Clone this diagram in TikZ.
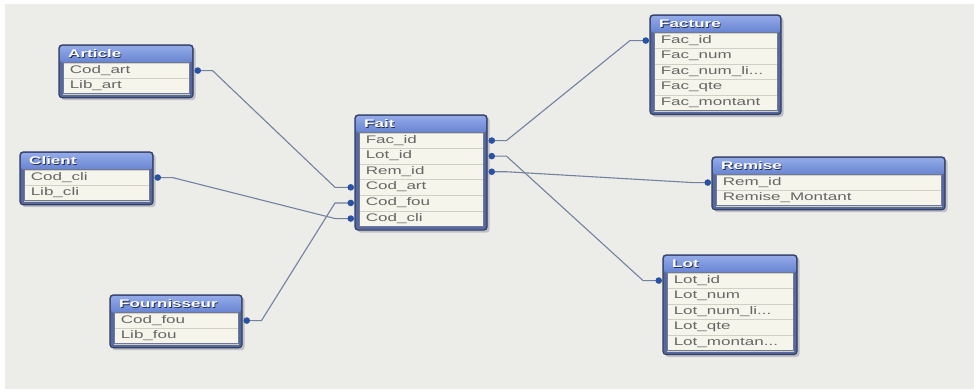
\documentclass[tikz,border=0pt]{standalone}
\usepackage{fontspec}
\usetikzlibrary{arrows.meta}
\newfontfamily\tblfont[FakeStretch=1.55]{Liberation Sans}

\definecolor{bgc}{RGB}{236,236,233}
\definecolor{shadowc}{RGB}{190,192,198}
\definecolor{framec}{RGB}{86,104,156}
\definecolor{framedc}{RGB}{50,62,100}
\definecolor{titletop}{RGB}{146,170,232}
\definecolor{titlebot}{RGB}{104,132,210}
\definecolor{rowfill}{RGB}{245,245,235}
\definecolor{rowsep}{RGB}{208,208,198}
\definecolor{rowsline}{RGB}{112,122,152}
\definecolor{textc}{RGB}{102,102,102}
\definecolor{linkc}{RGB}{116,130,160}
\definecolor{dotc}{RGB}{42,82,162}
\definecolor{titlesh}{RGB}{30,42,90}

\newcommand{\titleh}{17.5}
\newcommand{\rowh}{15.6}
\newcommand{\trunc}{...}

\tikzset{
  framebox/.style={fill=framec, draw=framedc, line width=1.1pt, rounded corners=3pt},
  rowsbox/.style={draw=rowsline, line width=0.7pt},
  rowcell/.style={draw=rowsep, line width=0.5pt, fill=rowfill, rectangle,
    inner xsep=6.5pt, inner ysep=0pt, minimum height=\rowh pt, align=left,
    font=\tblfont\fontsize{11}{13}\selectfont, text=textc, execute at begin node=\strut},
  titletext/.style={font=\tblfont\bfseries\fontsize{11}{13}\selectfont, text=white, inner sep=0pt},
  titleshadow/.style={titletext, text=titlesh},
  link/.style={draw=linkc, line width=1.1pt,
    {Circle[length=6.5pt,color=dotc]}-{Circle[length=6.5pt,color=dotc]}},
}

% #1 name, #2 left, #3 top, #4 width, #5 number of rows, #6 title, #7 rows
\newcommand{\dbtable}[7]{%
  \pgfmathsetmacro\rowsbottom{#3+\titleh+#5*\rowh}%
  \pgfmathsetmacro\cellw{#4-8}%
  \pgfmathsetmacro\cellt{#4-8-13}%
  \fill[shadowc, rounded corners=3pt] (#2+2.5,#3+2.5) rectangle (#2+#4+2.5,\rowsbottom+6.5);
  \filldraw[framebox] (#2,#3) rectangle (#2+#4,\rowsbottom+4);
  \shade[top color=titletop, bottom color=titlebot, rounded corners=2pt]
    (#2+1.2,#3+1.2) rectangle (#2+#4-1.2,#3+\titleh);
  \node[titleshadow, anchor=west] (#1-shadow) at (#2+9.8,#3+9.8) {#6};
  \node[titletext, anchor=west] (#1) at (#2+9,#3+9) {#6};
  \foreach \r [count=\i] in {#7} {
    \node[rowcell, text width=\cellt pt, minimum width=\cellw pt, anchor=north west]
      (#1-\i) at (#2+4,#3+\titleh+\i*\rowh-\rowh) {\r};
  }
  \draw[rowsbox] (#2+4,#3+\titleh) rectangle (#2+#4-4,\rowsbottom);
}

\begin{document}
\begin{tikzpicture}[x=1pt, y=-1pt]
  \useasboundingbox (0,0) rectangle (974,389);
  \fill[white] (0,0) rectangle (974,389);
  \fill[bgc] (5,4) rectangle (974,389);

  \dbtable{article}{59}{45}{134}{2}{Article}{Cod\_art,Lib\_art}
  \dbtable{client}{20}{152}{133}{2}{Client}{Cod\_cli,Lib\_cli}
  \dbtable{fournisseur}{110}{295}{132}{2}{Fournisseur}{Cod\_fou,Lib\_fou}
  \dbtable{fait}{355}{115}{132}{6}{Fait}{Fac\_id,Lot\_id,Rem\_id,Cod\_art,Cod\_fou,Cod\_cli}
  \dbtable{facture}{650}{15}{131}{5}{Facture}{Fac\_id,Fac\_num,Fac\_num\_li\trunc,Fac\_qte,Fac\_montant}
  \dbtable{remise}{712}{157}{233}{2}{Remise}{Rem\_id,Remise\_Montant}
  \dbtable{lot}{663}{255}{134}{5}{Lot}{Lot\_id,Lot\_num,Lot\_num\_li\trunc,Lot\_qte,Lot\_montan\trunc}

  % joins between the fact table and the dimensions
  \draw[link] ([xshift=5pt]article-1.east) -- ++(18,0)
    -- ([xshift=-24pt]fait-4.west) -- ([xshift=-5pt]fait-4.west);
  \draw[link] ([xshift=5pt]client-1.east) -- ++(18,0)
    -- ([xshift=-24pt]fait-6.west) -- ([xshift=-5pt]fait-6.west);
  \draw[link] ([xshift=5pt]fournisseur-1.east) -- ++(18,0)
    -- ([xshift=-24pt]fait-5.west) -- ([xshift=-5pt]fait-5.west);
  \draw[link] ([xshift=5pt]fait-1.east) -- ++(18,0)
    -- ([xshift=-24pt]facture-1.west) -- ([xshift=-5pt]facture-1.west);
  \draw[link] ([xshift=5pt]fait-2.east) -- ++(18,0)
    -- ([xshift=-24pt]lot-1.west) -- ([xshift=-5pt]lot-1.west);
  \draw[link] ([xshift=5pt]fait-3.east) -- ++(18,0)
    -- ([xshift=-24pt]remise-1.west) -- ([xshift=-5pt]remise-1.west);
\end{tikzpicture}
\end{document}
